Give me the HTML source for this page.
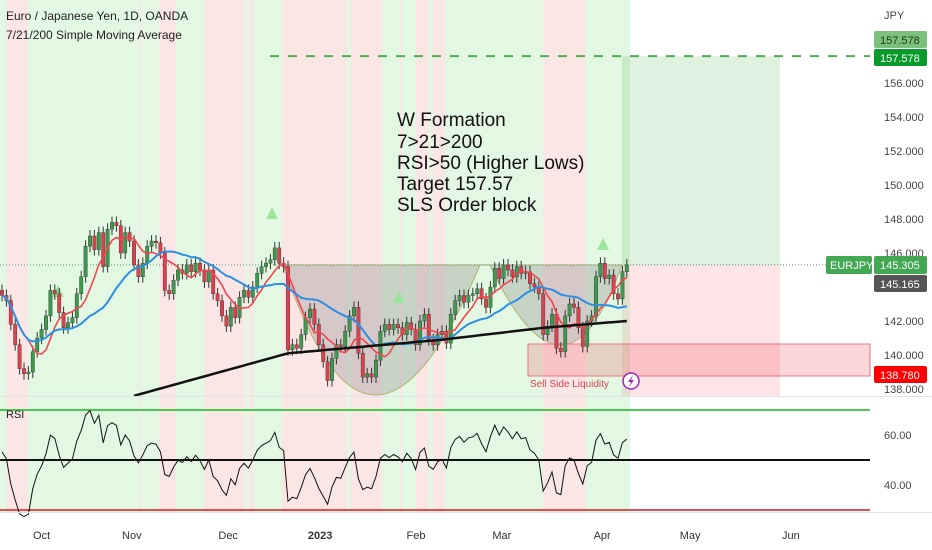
<!DOCTYPE html>
<html><head><meta charset="utf-8"><style>
html,body{margin:0;width:932px;height:550px;overflow:hidden;background:#fff;font-family:"Liberation Sans","DejaVu Sans",sans-serif}
svg{display:block;position:absolute;left:0;top:0}
</style></head><body>
<svg id="c" width="932" height="550" xmlns="http://www.w3.org/2000/svg">
<rect x="0" y="0" width="932" height="550" fill="#fff"/>
<g id="bands"></g>
<g id="overlay"></g>
<g id="candles"></g>
<g id="mas"></g>
<g id="rsi"></g>
<g id="labels"></g>
</svg>
<script>
const closes=[143.5,143.2,141.8,140.6,139.2,138.9,139.0,140.2,141.0,141.5,142.3,143.8,143.6,142.5,141.6,141.9,142.2,143.6,144.6,146.4,147.0,146.2,147.2,145.2,147.4,147.8,147.6,146.0,147.2,146.7,145.3,144.6,145.4,146.4,146.7,146.6,146.0,143.8,143.6,144.4,145.0,144.8,145.3,144.9,145.4,145.0,144.3,145.0,143.6,143.2,142.3,141.7,142.8,142.2,143.4,143.8,143.4,144.0,144.8,145.2,145.4,145.6,146.3,145.4,145.2,140.3,140.6,140.4,141.2,142.2,142.7,141.8,140.6,139.6,138.5,139.8,140.6,140.5,141.4,142.3,142.8,140.1,138.7,138.9,138.7,139.7,141.4,141.8,141.5,141.8,141.6,141.2,141.9,141.5,140.6,142.0,142.4,140.9,140.6,141.2,141.4,140.7,142.4,143.2,143.5,143.1,143.5,143.6,143.9,143.3,142.8,144.0,145.1,144.5,145.3,145.0,144.6,145.2,144.8,144.9,144.2,144.0,143.6,141.2,141.7,142.4,140.4,140.2,142.3,143.0,142.8,141.6,140.5,142.0,142.3,144.6,145.4,144.5,144.7,143.6,143.3,144.9,145.3];
const sma200Idx=[30,65,100,123,142];
const sma200Val=[137.6,140.1,140.9,141.6,142.0];
const priceTicks=[156,154,152,150,148,146,142,140,138];
const rsiTicks=[60,40];
const monthLabels=["Oct","Nov","Dec","2023","Feb","Mar","Apr","May","Jun"];
const monthBar=[9,29.5,51.4,72.3,94.1,113.6,136.4,156.4,179.3];
const pinkStart=[6,139,159,204,249,282,351,400,416,433,543];
const pinkEnd=[28,141,176,245,253,347,382,402,429,445,586];

const NS="http://www.w3.org/2000/svg";
const X=i=>2+i*4.4;
const Y=p=>83+(156-p)*17;
const RY=v=>460-(v-50)*2.5;
function mk(tag,attrs,parent,text){const e=document.createElementNS(NS,tag);for(const k in attrs)e.setAttribute(k,attrs[k]);if(text!==undefined)e.textContent=text;document.getElementById(parent).appendChild(e);return e;}

let e=mk('rect',{x:0,y:0,width:630,height:396,fill:'#e3f8e3'},'bands');


e=mk('rect',{x:0,y:397,width:630,height:115,fill:'#e3f8e3'},'bands');


for(let k=0;k<pinkStart.length;k++){
 e=mk('rect',{x:pinkStart[k],y:0,width:pinkEnd[k]-pinkStart[k],height:396,fill:'#fbe6e6'},'bands');
 
 
 e=mk('rect',{x:pinkStart[k],y:397,width:pinkEnd[k]-pinkStart[k],height:115,fill:'#fbe6e6'},'bands');
 
 
}
e=mk('rect',{x:622,y:Y(157.578),width:158,height:Y(145.305)-Y(157.578),fill:'rgba(76,175,80,0.18)'},'overlay');


e=mk('rect',{x:622,y:Y(145.305),width:158,height:396-Y(145.305),fill:'rgba(242,54,69,0.13)'},'overlay');


e=mk('line',{x1:270,x2:870,y1:Y(157.578),y2:Y(157.578),stroke:'#4caf50','stroke-width':2,'stroke-dasharray':'9 9'},'overlay');


e=mk('path',{d:`M283 265 Q370 525 480 265 L490 265 Q565 425 622 265 Z`,fill:'rgba(140,140,140,0.33)',stroke:'#b0b070','stroke-width':1},'overlay');


e=mk('rect',{x:528,y:344,width:342,height:32,fill:'rgba(242,54,69,0.2)',stroke:'#f07080','stroke-width':1},'overlay');


e=mk('line',{x1:0,x2:870,y1:Y(145.305),y2:Y(145.305),stroke:'#5a9a7a','stroke-width':1,'stroke-dasharray':'1 2'},'overlay');


[[272,213],[58,291],[399,297],[603,244]].forEach(t=>{
 e=mk('polygon',{points:`${t[0]-6},${t[1]+6} ${t[0]+6},${t[1]+6} ${t[0]},${t[1]-6}`,fill:'#9be59b'},'overlay');
 
 
});
for(let i=0;i<closes.length;i++){
 const c=closes[i],o=i?closes[i-1]:c+0.3;
 const up=c>=o,col=up?'#3e9a4e':'#e0404c';
 const hi=Math.max(o,c)+0.35,lo=Math.min(o,c)-0.35;
 e=mk('line',{x1:X(i),x2:X(i),y1:Y(hi),y2:Y(lo),stroke:'#333','stroke-width':1},'candles');
 
 
 const t=Math.min(Y(o),Y(c)),h=Math.max(1,Math.abs(Y(o)-Y(c)));
 e=mk('rect',{x:X(i)-1.7,y:t,width:3.4,height:h,fill:col,stroke:'#333','stroke-width':0.4},'candles');
 
 
}
function sma(n){return closes.map((_,i)=>{const a=closes.slice(Math.max(0,i-n+1),i+1);return a.reduce((s,v)=>s+v,0)/a.length;});}
const s7=sma(7),s21=sma(21);
e=mk('polyline',{points:s7.map((v,i)=>X(i)+','+Y(v)).join(' '),fill:'none',stroke:'#f0454f','stroke-width':1.6},'mas');


e=mk('polyline',{points:s21.map((v,i)=>X(i)+','+Y(v)).join(' '),fill:'none',stroke:'#2e8fe0','stroke-width':2},'mas');


let pts=[];
for(let k=0;k<sma200Idx.length-1;k++){const a=sma200Idx[k],b=sma200Idx[k+1];for(let i=a;i<b;i++){pts.push(X(i)+','+Y(sma200Val[k]+(sma200Val[k+1]-sma200Val[k])*(i-a)/(b-a)));}}
pts.push(X(sma200Idx[sma200Idx.length-1])+','+Y(sma200Val[sma200Val.length-1]));
e=mk('polyline',{points:pts.join(' '),fill:'none',stroke:'#111','stroke-width':2.5},'mas');


const rsiVals=[];let ag=0.25,al=0.22;
for(let i=0;i<closes.length;i++){
 const d=i?closes[i]-closes[i-1]:0,g=Math.max(d,0),l=Math.max(-d,0);
 ag=(ag*13+g)/14;al=(al*13+l)/14;
 rsiVals.push(100-100/(1+ag/al));
}
[[70,'#4cc94c'],[50,'#111'],[30,'#e05050']].forEach(r=>{
 e=mk('line',{x1:0,x2:870,y1:RY(r[0]),y2:RY(r[0]),stroke:r[1],'stroke-width':2},'rsi');
 
 
});
e=mk('polyline',{points:rsiVals.map((v,i)=>X(i)+','+RY(v)).join(' '),fill:'none',stroke:'#111','stroke-width':1},'rsi');


e=mk('text',{x:6,y:418,'font-size':11,fill:'#222'},'rsi','RSI');


e=mk('line',{x1:0,x2:932,y1:396.5,y2:396.5,stroke:'#e0e3eb'},'labels');


e=mk('line',{x1:0,x2:932,y1:512.5,y2:512.5,stroke:'#e0e3eb'},'labels');


priceTicks.forEach(p=>{
 e=mk('text',{x:884,y:Y(p)+4,'font-size':11,fill:'#444'},'labels',p.toFixed(3));
 
 
});
rsiTicks.forEach(v=>{
 e=mk('text',{x:884,y:RY(v)+4,'font-size':11,fill:'#444'},'labels',v.toFixed(2));
 
 
});
monthLabels.forEach((m,k)=>{
 e=mk('text',{x:X(monthBar[k]),y:539,'font-size':11,fill:'#333','text-anchor':'middle','font-weight':m==='2023'?'bold':'normal'},'labels',m);
 
 
});
</script>
<svg width="932" height="550" xmlns="http://www.w3.org/2000/svg">
<text x="6" y="20" font-size="12" fill="#222">Euro / Japanese Yen, 1D, OANDA</text>
<text x="6" y="39" font-size="12" fill="#222">7/21/200 Simple Moving Average</text>
<text x="884" y="19" font-size="11" fill="#444">JPY</text>
<g font-size="19" fill="#111">
<text x="397" y="126">W Formation</text>
<text x="397" y="148">7&gt;21&gt;200</text>
<text x="397" y="169">RSI&gt;50 (Higher Lows)</text>
<text x="397" y="190">Target 157.57</text>
<text x="397" y="211">SLS Order block</text>
</g>
<text x="530" y="387" font-size="10" fill="#e04050">Sell Side Liquidity</text>
<circle cx="631" cy="381" r="8" fill="#fff" stroke="#9c27b0" stroke-width="1.5"/>
<path d="M633 375 L628 382 L631 382 L629 387 L634 380 L631 380 Z" fill="#9c27b0"/>
<rect x="874" y="31" width="53" height="17" rx="2" fill="#7cc07c"/>
<text x="880" y="44" font-size="11" fill="#1a3a1a">157.578</text>
<rect x="874" y="49" width="53" height="17" rx="2" fill="#089a2a"/>
<text x="880" y="62" font-size="11" fill="#fff">157.578</text>
<rect x="826" y="256" width="46" height="18" rx="2" fill="#43a853"/>
<text x="830" y="269" font-size="11" fill="#fff">EURJPY</text>
<rect x="874" y="256" width="53" height="18" rx="2" fill="#43a853"/>
<text x="880" y="269" font-size="11" fill="#fff">145.305</text>
<rect x="874" y="275" width="53" height="17" rx="2" fill="#555"/>
<text x="880" y="288" font-size="11" fill="#fff">145.165</text>
<rect x="874" y="366" width="53" height="17" rx="2" fill="#f00"/>
<text x="880" y="379" font-size="11" fill="#fff">138.780</text>
</svg>
</body></html>
